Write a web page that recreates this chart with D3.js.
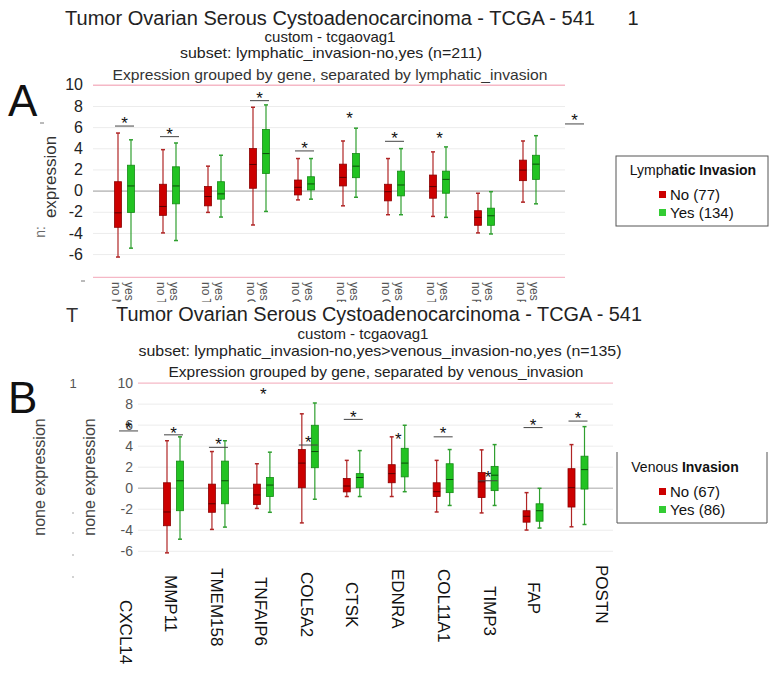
<!DOCTYPE html>
<html><head><meta charset="utf-8">
<script src="https://cdn.jsdelivr.net/npm/d3@7"></script>
<style>body{margin:0;background:#fff}svg{display:block;font-family:"Liberation Sans",Arial,sans-serif}</style>
</head><body><svg id="c" width="776" height="675"></svg>
<script>
// ---------------- data ----------------
const genes = ["MMP11","TMEM158","TNFAIP6","COL5A2","CTSK","EDNRA","COL11A1","TIMP3","FAP","POSTN"];
const labelsB = ["CXCL14","MMP11","TMEM158","TNFAIP6","COL5A2","CTSK","EDNRA","COL11A1","TIMP3","FAP","POSTN"];
const yTicks = [10,8,6,4,2,0,-2,-4,-6];
// [low whisker, Q1, median, Q3, high whisker]
const lymphNo = [[-6.28,-3.47,-2.1,0.84,5.44],[-4.0,-2.34,-1.5,0.6,3.87],[-2.06,-1.44,-0.56,0.38,2.31],[-3.25,0.22,2.47,3.97,7.88],[-0.88,-0.41,0.31,1.0,3.03],[-1.44,0.44,1.25,2.5,4.69],[-2.28,-0.97,-0.1,0.6,3.03],[-2.44,-0.72,0.38,1.47,3.66],[-4.0,-3.28,-2.53,-1.9,-0.25],[-1.09,0.94,1.94,2.88,4.69]];
const lymphYes = [[-5.44,-2.06,0.44,2.4,4.8],[-4.72,-1.25,0.44,2.25,4.5],[-2.5,-0.81,-0.31,0.84,3.34],[-1.97,1.62,3.5,5.78,8.1],[-0.81,0.06,0.63,1.31,3.03],[-0.63,1.22,2.31,3.5,5.9],[-2.28,-0.5,0.53,1.84,3.97],[-2.53,-0.25,1.06,1.84,4.13],[-4.1,-3.28,-2.38,-1.66,-0.1],[-1.25,1.06,2.5,3.34,5.19]];
const venNo = [[-6.2,-3.62,-2.31,0.47,4.47],[-3.97,-2.34,-1.53,0.34,3.44],[-1.97,-1.6,-0.69,0.34,2.28],[-3.35,0,2.34,3.63,7.03],[-0.84,-0.4,0.16,0.88,2.6],[-0.84,0.47,1.34,2.19,4.84],[-2.31,-0.84,-0.38,0.47,2.6],[-2.4,-0.94,0.56,1.44,3.6],[-4.03,-3.28,-2.72,-2.19,-0.47],[-3.72,-1.84,0,1.81,4.1]];
const venYes = [[-4.9,-2.19,0.66,2.53,4.84],[-3.75,-1.53,0.66,2.53,4.47],[-2.34,-0.84,0.25,0.97,3.38],[-1.1,1.9,3.44,5.94,8.06],[-0.84,0,0.97,1.34,3.53],[-0.38,1.03,2.34,3.75,5.94],[-1.69,-0.47,0.78,2.28,3.63],[-1.69,-0.28,1.19,2.03,4.1],[-3.84,-3.19,-2.19,-1.53,-0.06],[-3.5,-0.13,1.72,3.0,5.81]];
// significance markers: group index, bar level (null = none), star level
const sigA = [{i:0,bar:6.1,star:6.69},{i:1,bar:5.1,star:5.69},{i:3,bar:8.5,star:9.06},{i:4,bar:3.75,star:4.38},{i:5,bar:null,star:7.19},{i:6,bar:4.66,star:5.28},{i:7,bar:null,star:5.31},{i:10,bar:6.3,star:7.0}];
const sigB = [{i:-1,bar:5.4,star:5.97},{i:0,bar:5.03,star:5.56},{i:1,bar:3.84,star:4.47},{i:2,bar:null,star:9.25},{i:3,bar:4.06,star:4.7},{i:4,bar:6.5,star:7.1},{i:5,bar:null,star:4.94},{i:6,bar:4.84,star:5.5},{i:7,bar:0.66,star:1.34},{i:8,bar:5.72,star:6.28},{i:9,bar:6.34,star:6.97}];
const legendAItems = ["No (77)","Yes (134)"];
const legendBItems = ["No (67)","Yes (86)"];
const titleMain = "Tumor Ovarian Serous Cystoadenocarcinoma - TCGA - 541";
const subsetA = "subset: lymphatic_invasion-no,yes (n=211)";
const subsetB = "subset: lymphatic_invasion-no,yes>venous_invasion-no,yes (n=135)";
const exprA = "Expression grouped by gene, separated by lymphatic_invasion";
const exprB = "Expression grouped by gene, separated by venous_invasion";

// ---------------- layout ----------------
const labelTopB = [600,575,568,577,572,582,569,569,586,582,565];
const labelNudgeB = [-3,-3,-2,-2,-1,-1,0,1,2,1,24];
const pink = "#f5b8c6";
const RED = {fill:"#cc0000", stroke:"#8c0000", wh:"#b02525", med:"#5a0000"};
const GRN = {fill:"#22c322", stroke:"#158a15", wh:"#2f9f2f", med:"#0b4d0b"};

const svg = d3.select("#c");
svg.append("rect").attr("width",776).attr("height",675).attr("fill","#fff");

function txt(g, x, y, s, o={}) {
  const t = g.append("text").attr("x",x).attr("y",y).text(s)
    .attr("font-size", o.size||14).attr("fill", o.fill||"#222")
    .attr("text-anchor", o.anchor||"middle");
  if (o.len) t.attr("textLength", o.len).attr("lengthAdjust","spacingAndGlyphs");
  if (o.weight) t.attr("font-weight", o.weight);
  if (o.rot) t.attr("transform", `rotate(${o.rot},${x},${y})`);
  return t;
}

function panel(o) {
  const g = svg.append("g");
  const xs = d3.scalePoint().domain(genes).range(o.xRange);
  const cx = i => o.xRange[0] + i * xs.step();
  const y = d3.scaleLinear().domain([0,10]).range(o.yRange);

  const ax = d3.axisLeft(y).tickValues(yTicks)
    .tickSizeInner(-(o.plotX[1]-o.plotX[0])).tickSizeOuter(0)
    .tickPadding(o.pad).tickFormat(d => String(d));
  const axg = g.append("g").attr("transform",`translate(${o.plotX[0]},0)`).call(ax);
  axg.select(".domain").remove();
  axg.selectAll(".tick line")
    .attr("stroke", d => d===10 ? pink : d===0 ? "#c4c4c4" : "#ececec")
    .attr("stroke-width", d => d===0 ? 1.6 : (d===10?1.4:1));
  axg.selectAll(".tick text").attr("font-size", o.tickFont).attr("fill", o.tickColor)
    .attr("font-family", '"Liberation Sans",Arial,sans-serif');

  if (o.bottomFrame != null) {
    g.append("line").attr("x1",o.plotX[0]).attr("x2",o.plotX[1])
      .attr("y1",y(o.bottomFrame)).attr("y2",y(o.bottomFrame))
      .attr("stroke",pink).attr("stroke-width",1.4);
  }

  [[o.no, RED, -6.5],[o.yes, GRN, 6.5]].forEach(([vals, c, off]) => {
    const sg = g.append("g");
    sg.selectAll("line.wh").data(vals).join("line").attr("class","wh")
      .attr("x1",(d,i)=>cx(i)+off).attr("x2",(d,i)=>cx(i)+off)
      .attr("y1",d=>y(d[4])).attr("y2",d=>y(d[0]))
      .attr("stroke",c.wh).attr("stroke-width",1.2);
    ["lo","hi"].forEach((k,j) => {
      sg.selectAll("line.cap"+k).data(vals).join("line").attr("class","cap"+k)
        .attr("x1",(d,i)=>cx(i)+off-2).attr("x2",(d,i)=>cx(i)+off+2)
        .attr("y1",d=>y(d[j?4:0])).attr("y2",d=>y(d[j?4:0]))
        .attr("stroke",c.wh).attr("stroke-width",1.5);
    });
    sg.selectAll("rect").data(vals).join("rect")
      .attr("x",(d,i)=>cx(i)+off-3.5).attr("width",7)
      .attr("y",d=>y(d[3])).attr("height",d=>y(d[1])-y(d[3]))
      .attr("fill",c.fill).attr("stroke",c.stroke).attr("stroke-width",0.8);
    sg.selectAll("line.med").data(vals).join("line").attr("class","med")
      .attr("x1",(d,i)=>cx(i)+off-3.5).attr("x2",(d,i)=>cx(i)+off+3.5)
      .attr("y1",d=>y(d[2])).attr("y2",d=>y(d[2]))
      .attr("stroke",c.med).attr("stroke-width",1);
  });

  g.selectAll("line.sig").data(o.sig.filter(d=>d.bar!=null)).join("line").attr("class","sig")
    .attr("x1",d=>cx(d.i)-9.5).attr("x2",d=>cx(d.i)+9.5)
    .attr("y1",d=>y(d.bar)).attr("y2",d=>y(d.bar))
    .attr("stroke","#444").attr("stroke-width",1);
  g.selectAll("text.star").data(o.sig).join("text").attr("class","star")
    .attr("x",d=>cx(d.i)).attr("y",d=>y(d.star)+9.5)
    .attr("text-anchor","middle").attr("font-size",17).attr("fill","#111").text("*");
  return {g, cx, y};
}

// ---------------- Panel A ----------------
txt(svg, 330, 25, titleMain, {size:20, len:530, fill:"#222"});
txt(svg, 633, 25, "1", {size:20, fill:"#222"});
txt(svg, 330, 42, "custom - tcgaovag1", {size:15, fill:"#222"});
txt(svg, 331, 58, subsetA, {size:15, len:302, fill:"#222"});
txt(svg, 330, 80, exprA, {size:15, len:435, fill:"#333"});
txt(svg, 8, 116, "A", {size:44, anchor:"start", fill:"#111"});
txt(svg, 56, 177, "expression", {size:17, fill:"#333", rot:-90});
txt(svg, 45, 232, "n:", {size:14, fill:"#666", rot:-90});
svg.append("line").attr("x1",40).attr("x2",44).attr("y1",123).attr("y2",123).attr("stroke","#777");
svg.append("line").attr("x1",81).attr("x2",85).attr("y1",281).attr("y2",281).attr("stroke","#777");

const A = panel({xRange:[124.5,529.5], yRange:[190.6,84.8], plotX:[93,565], pad:10,
  tickFont:16, tickColor:"#222", no:lymphNo, yes:lymphYes, sig:sigA, bottomFrame:-8.2});

// clipped x labels for A
const clip = svg.append("defs").append("clipPath").attr("id","clipA");
clip.append("rect").attr("x",0).attr("y",278).attr("width",776).attr("height",24);
const labA = svg.append("g").attr("clip-path","url(#clipA)");
genes.forEach((gname,i) => {
  [["no ",-6.5],["yes ",6.5]].forEach(([p,off]) => {
    const x = A.cx(i)+off-2;
    labA.append("text").attr("x",x).attr("y",282).attr("dy","0.35em")
      .attr("transform",`rotate(90,${x},282)`)
      .attr("font-size",12).attr("fill","#555").text(p+gname);
  });
});

// legend A
const lgA = svg.append("g");
lgA.append("rect").attr("x",616).attr("y",156).attr("width",152).attr("height",70)
  .attr("fill","#fff").attr("stroke","#555").attr("stroke-width",1);
const tA = lgA.append("text").attr("x",693).attr("y",175).attr("text-anchor","middle")
  .attr("font-size",14).attr("fill","#111");
tA.append("tspan").text("Lymph");
tA.append("tspan").attr("font-weight","bold").text("atic Invasion");
legendAItems.forEach((s,j) => {
  lgA.append("rect").attr("x",659).attr("y",191+j*18).attr("width",7).attr("height",7)
    .attr("fill", j? "#33cc33" : "#cc0000");
  lgA.append("text").attr("x",670).attr("y",200+j*18).attr("font-size",15).attr("fill","#111").text(s);
});

// ---------------- Panel B ----------------
txt(svg, 72, 322, "T", {size:20, fill:"#333"});
txt(svg, 379, 321, titleMain, {size:20, len:526, fill:"#222"});
txt(svg, 363, 339, "custom - tcgaovag1", {size:15, fill:"#222"});
txt(svg, 380, 356, subsetB, {size:15, len:483, fill:"#222"});
txt(svg, 376, 377, exprB, {size:15, len:415, fill:"#222"});
txt(svg, 8, 413, "B", {size:44, anchor:"start", fill:"#111"});
txt(svg, 45, 477, "none expression", {size:16, fill:"#444", rot:-90});
txt(svg, 95, 477, "none expression", {size:16, fill:"#444", rot:-90});
txt(svg, 73, 388, "1", {size:13, fill:"#555"});
[513,533,555,577].forEach(yy => svg.append("circle").attr("cx",73).attr("cy",yy).attr("r",0.8).attr("fill","#999"));

const B = panel({xRange:[173.5,578], yRange:[487.7,382.6], plotX:[138,613], pad:5,
  tickFont:14, tickColor:"#555", no:venNo, yes:venYes, sig:sigB, bottomFrame:null});

labelsB.forEach((s,j) => {
  const x = B.cx(j-1) + labelNudgeB[j];
  const y0 = labelTopB[j];
  svg.append("text").attr("x",x).attr("y",y0).attr("dy","0.35em")
    .attr("transform",`rotate(90,${x},${y0})`)
    .attr("font-size",17).attr("fill","#111").text(s);
});

// legend B (open top)
const lgB = svg.append("g");
lgB.append("path").attr("d","M617,452V523H767V452").attr("fill","none").attr("stroke","#555");
const tB = lgB.append("text").attr("x",685).attr("y",472).attr("text-anchor","middle")
  .attr("font-size",14).attr("fill","#111");
tB.append("tspan").text("Venous ");
tB.append("tspan").attr("font-weight","bold").text("Invasion");
legendBItems.forEach((s,j) => {
  lgB.append("rect").attr("x",659).attr("y",488+j*18).attr("width",7).attr("height",7)
    .attr("fill", j? "#33cc33" : "#cc0000");
  lgB.append("text").attr("x",670).attr("y",497+j*18).attr("font-size",15).attr("fill","#111").text(s);
});
</script></body></html>
